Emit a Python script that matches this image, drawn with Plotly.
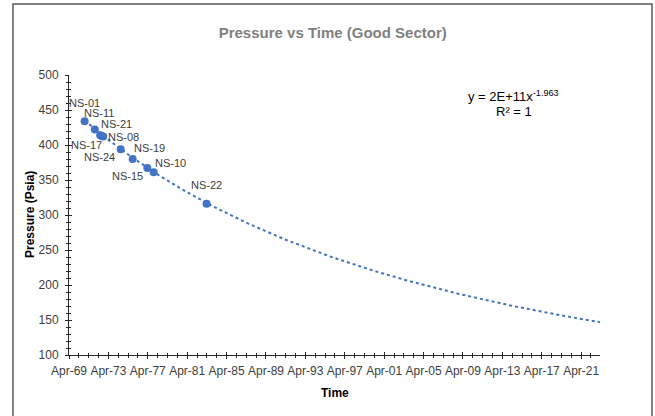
import numpy as np
import pandas as pd
import plotly.graph_objects as go

# ---- data ----
well_names = ["NS-01", "NS-11", "NS-21", "NS-17", "NS-08", "NS-24", "NS-19", "NS-15", "NS-10", "NS-22"]
dates = ["1970-11-01", "1971-11-15", "1972-06-01", "1972-07-25", "1972-09-20",
         "1974-07-01", "1975-09-18", "1977-03-15", "1977-11-05", "1983-03-22"]
pressure = [434, 422, 414, 413, 412, 394, 380, 367, 361, 316]

# trendline equation shown on the chart: y = 2E+11 x^-1.963 (x = Excel date serial)
TREND_A = 2e11
TREND_B = -1.963
trend_end = "2023-03-01"

# label offsets (px) for each well label
label_dx = [0, 4, 16, -15, 20, -21, 17, -20, 17, 0]
label_dy = [18, 17, 11, -9, 0, -8, 11, -8, 9, 19]

blue = "#4472C4"
txt = "#404040"
font_fam = "Liberation Sans, Arial, sans-serif"

# trend line through Excel serials
t_dates = pd.date_range(dates[0], trend_end, freq="MS")
serial = (t_dates - pd.Timestamp("1899-12-30")).days.values.astype(float)
t_vals = TREND_A * serial ** TREND_B

fig = go.Figure()
fig.add_trace(go.Scatter(x=t_dates, y=t_vals, mode="lines",
                         line=dict(color=blue, width=2, dash="dot"),
                         hoverinfo="skip"))
fig.add_trace(go.Scatter(x=pd.to_datetime(dates), y=pressure, mode="markers",
                         marker=dict(color=blue, size=8), text=well_names))
# invisible trace for the overlay axes (inside half of crossing ticks)
fig.add_trace(go.Scatter(x=[dates[0]], y=[pressure[0]], xaxis="x2", yaxis="y2",
                         mode="markers", marker=dict(opacity=0), hoverinfo="skip"))

xr = ["1969-04-01", "2023-03-01"]
common_x = dict(type="date", range=xr, tick0="1969-04-01", dtick="M48",
                tickformat="%b-%y", showgrid=False, zeroline=False)
common_y = dict(range=[100, 500], dtick=50, showgrid=False, zeroline=False)

fig.update_layout(
    width=655, height=416,
    margin=dict(l=69, r=55, t=75, b=61),
    paper_bgcolor="white", plot_bgcolor="white",
    showlegend=False,
    font=dict(family=font_fam, color=txt, size=11),
    title=dict(text="<b>Pressure vs Time (Good Sector)</b>", x=0.508, xref="container",
               y=1 - 33 / 416, yref="container", xanchor="center", yanchor="middle",
               font=dict(size=15, color="#7f7f7f", family=font_fam)),
    xaxis=dict(**common_x, showline=True, linecolor="#262626", linewidth=1,
               ticks="outside", ticklen=3, tickcolor="#262626",
               ticklabelstandoff=2,
               tickfont=dict(size=12, color=txt),
               minor=dict(dtick="M12", tick0="1969-04-01", ticks="outside", ticklen=2,
                          tickcolor="#262626")),
    yaxis=dict(**common_y, showline=True, linecolor="#262626", linewidth=1,
               ticks="outside", ticklen=3, tickcolor="#262626",
               ticklabelstandoff=4,
               tickfont=dict(size=12, color=txt),
               minor=dict(dtick=10, ticks="outside", ticklen=2, tickcolor="#262626")),
    xaxis2=dict(**common_x, overlaying="x", showline=False, showticklabels=False,
                ticks="inside", ticklen=3, tickcolor="#262626",
                minor=dict(dtick="M12", tick0="1969-04-01", ticks="inside", ticklen=2,
                           tickcolor="#262626")),
    yaxis2=dict(**common_y, overlaying="y", showline=False, showticklabels=False,
                ticks="inside", ticklen=3, tickcolor="#262626",
                minor=dict(dtick=10, ticks="inside", ticklen=2, tickcolor="#262626")),
)

# well labels
for name, d, p, dx, dy in zip(well_names, dates, pressure, label_dx, label_dy):
    fig.add_annotation(x=d, y=p, text=name, showarrow=False, xshift=dx, yshift=dy,
                       xanchor="center", yanchor="middle",
                       font=dict(size=11, color=txt, family=font_fam))

# axis titles
fig.add_annotation(x=0.501, y=-0.136, xref="paper", yref="paper", text="<b>Time</b>",
                   xanchor="center", yanchor="middle",
                   showarrow=False, font=dict(size=12, color="#000000"))
fig.add_annotation(x=-0.0734, y=0.5, xref="paper", yref="paper", text="<b>Pressure (Psia)</b>",
                   xanchor="center", yanchor="middle",
                   showarrow=False, textangle=-90, font=dict(size=12, color="#000000"))

# trendline equation
fig.add_annotation(x=0.838, y=0.925, xref="paper", yref="paper",
                   text="y = 2E+11x<sup>-1.963</sup>", showarrow=False,
                   xanchor="center", yanchor="middle",
                   font=dict(size=13, color="#000000"))
fig.add_annotation(x=0.838, y=0.868, xref="paper", yref="paper",
                   text="R² = 1", showarrow=False, xanchor="center", yanchor="middle",
                   font=dict(size=13, color="#000000"))

# outer chart border
fig.add_shape(type="rect", xref="paper", yref="paper",
              x0=(13 - 69) / 531, x1=(652 - 69) / 531,
              y0=1 - (420 - 75) / 280, y1=1 - (4 - 75) / 280,
              line=dict(color="#595959", width=1.5), layer="below")

fig.write_html("out.html", config={"displayModeBar": False},
               post_script="document.body.style.margin='0';")
